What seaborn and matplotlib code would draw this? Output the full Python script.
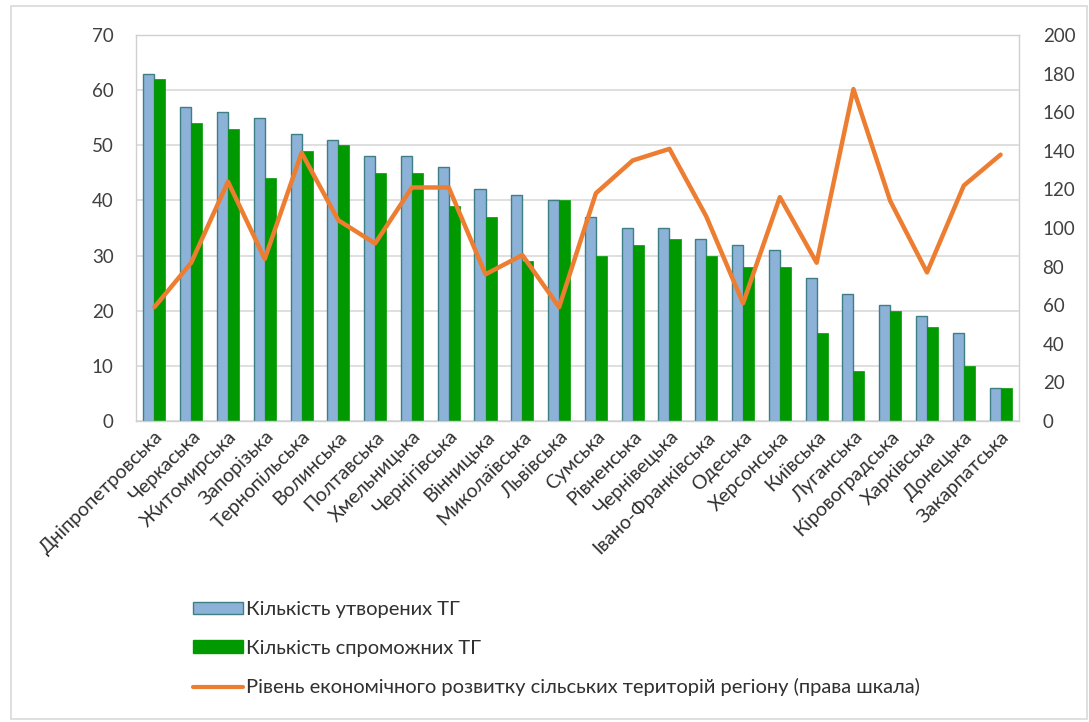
import matplotlib
matplotlib.use("Agg")
import matplotlib.pyplot as plt
import seaborn as sns
import pandas as pd
from matplotlib.patches import Rectangle, Patch
from matplotlib.lines import Line2D

regions = [
    "Дніпропетровська", "Черкаська", "Житомирська", "Запорізька", "Тернопільська",
    "Волинська", "Полтавська", "Хмельницька", "Чернігівська", "Вінницька",
    "Миколаївська", "Львівська", "Сумська", "Рівненська", "Чернівецька",
    "Івано-Франківська", "Одеська", "Херсонська", "Київська", "Луганська",
    "Кіровоградська", "Харківська", "Донецька", "Закарпатська",
]
created = [63, 57, 56, 55, 52, 51, 48, 48, 46, 42, 41, 40, 37, 35, 35, 33, 32, 31, 26, 23, 21, 19, 16, 6]
capable = [62, 54, 53, 44, 49, 50, 45, 45, 39, 37, 29, 40, 30, 32, 33, 30, 28, 28, 16, 9, 20, 17, 10, 6]
development = [59, 82, 124, 84, 139, 104, 92, 121, 121, 76, 86, 59, 118, 135, 141, 106, 61, 116, 82, 172, 114, 77, 122, 138]

label_created = "Кількість утворених ТГ"
label_capable = "Кількість спроможних ТГ"
label_dev = "Рівень економічного розвитку сільських територій регіону (права шкала)"

blue = "#8CB2D8"
blue_edge = "#3E7F86"
green = "#009A00"
orange = "#ED7D31"

bars = pd.DataFrame({
    "region": regions * 2,
    "value": created + capable,
    "series": [label_created] * len(regions) + [label_capable] * len(regions),
})
line = pd.DataFrame({"region": regions, "value": development})

sns.set_style("white")
plt.rcParams["font.family"] = ["Lato", "DejaVu Sans"]

fig = plt.figure(figsize=(10.89, 7.22), dpi=100)
ax = fig.add_axes([136 / 1089, 1 - 421 / 722, 883 / 1089, 386 / 722])

sns.barplot(data=bars, x="region", y="value", hue="series",
            palette=[blue, green], width=0.6, dodge=True, gap=0,
            saturation=1, ax=ax, legend=False, zorder=2)
for patch in ax.patches[:len(regions)]:
    patch.set_edgecolor(blue_edge)
    patch.set_linewidth(1.0)
for patch in ax.patches[len(regions):]:
    patch.set_edgecolor(green)
    patch.set_linewidth(0.5)

ax.set_ylim(0, 70)
ax.set_yticks(range(0, 71, 10))
ax.set_xlim(-0.5, len(regions) - 0.5)
ax.yaxis.grid(True, color="#D9D9D9", linewidth=1.2, zorder=0)
ax.set_axisbelow(True)
for s in ax.spines.values():
    s.set_visible(True)
    s.set_color("#D0D0D0")
    s.set_linewidth(1.0)
ax.set_xlabel("")
ax.set_ylabel("")
ax.tick_params(axis="y", labelsize=13.5, colors="#404040", length=0, pad=16)
ax.tick_params(axis="x", length=0, pad=5)
ax.set_xticks(range(len(regions)))
ax.set_xticklabels(regions, rotation=45, ha="right", rotation_mode="anchor",
                   fontsize=14, color="#303030")

ax2 = ax.twinx()
sns.lineplot(data=line, x="region", y="value", color=orange, linewidth=3.2,
             sort=False, ax=ax2, zorder=3)
ax2.set_ylim(0, 200)
ax2.set_yticks(range(0, 201, 20))
ax2.set_xlim(-0.5, len(regions) - 0.5)
ax2.set_ylabel("")
ax2.tick_params(axis="y", labelsize=13.5, colors="#404040", length=0, pad=17)
for s in ax2.spines.values():
    s.set_visible(False)

handles = [
    Patch(facecolor=blue, edgecolor=blue_edge, linewidth=1.0),
    Patch(facecolor=green, edgecolor=green),
    Line2D([0], [0], color=orange, linewidth=3),
]
fig.legend(handles, [label_created, label_capable, label_dev],
           loc="upper left", bbox_to_anchor=(175 / 1089, 1 - 583 / 722),
           frameon=False, fontsize=14.5, handlelength=2.5, handleheight=0.6,
           handletextpad=0.15, labelspacing=1.07, labelcolor="#303030")

fig.add_artist(Rectangle((11 / 1089, 1 - 719 / 722), 1076 / 1089, 713 / 722,
                         transform=fig.transFigure, fill=False,
                         edgecolor="#D9D9D9", linewidth=1.2))

fig.savefig("out.png", dpi=100)
